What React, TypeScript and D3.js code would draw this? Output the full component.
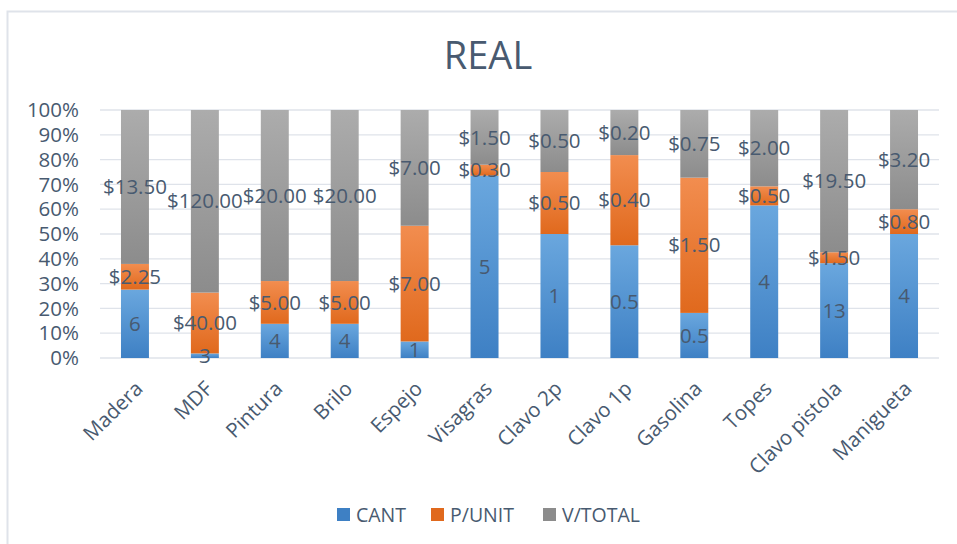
import React from "react";
import * as d3 from "d3";

const categories = ["Madera", "MDF", "Pintura", "Brilo", "Espejo", "Visagras", "Clavo 2p", "Clavo 1p", "Gasolina", "Topes", "Clavo pistola", "Manigueta"];
const cant = [6, 3, 4, 4, 1, 5, 1, 0.5, 0.5, 4, 13, 4];
const pUnit = [2.25, 40, 5, 5, 7, 0.3, 0.5, 0.4, 1.5, 0.5, 1.5, 0.8];
const vTotal = [13.5, 120, 20, 20, 7, 1.5, 0.5, 0.2, 0.75, 2, 19.5, 3.2];
const seriesNames = ["CANT", "P/UNIT", "V/TOTAL"];
const yTicks = [0, 0.1, 0.2, 0.3, 0.4, 0.5, 0.6, 0.7, 0.8, 0.9, 1];

const W = 957, H = 544;
const M = { left: 100, right: 18, top: 110, bottom: 186 };
const FONT = "'Open Sans', 'Noto Sans', sans-serif";
const TXT = "#485a70";
const grads = [
  { id: "gBlue", top: "#6aa7de", bottom: "#3e80c4" },
  { id: "gOrange", top: "#f28d4f", bottom: "#e0691d" },
  { id: "gGray", top: "#acacac", bottom: "#8c8c8c" },
];

function fmtLabel(s: number, v: number) {
  if (s === 0) return String(v);
  return "$" + v.toFixed(2);
}

export default function App() {
  const x = d3.scaleBand<string>().domain(categories).range([M.left, W - M.right]).paddingInner(0.6).paddingOuter(0.3);
  const y = d3.scaleLinear().domain([0, 1]).range([H - M.bottom, M.top]);
  const rows = categories.map((c, i) => ({ cat: c, s0: cant[i], s1: pUnit[i], s2: vTotal[i] }));
  const stack = d3.stack<any>().keys(["s0", "s1", "s2"]).offset(d3.stackOffsetExpand);
  const layers = stack(rows);
  const raw = [cant, pUnit, vTotal];
  const legendX = [337, 431, 543];

  return (
    <svg width={W} height={H} style={{ position: "absolute", left: 0, top: 0, background: "#fff" }} fontFamily={FONT}>
      <defs>
        {grads.map((g) => (
          <linearGradient key={g.id} id={g.id} x1="0" y1="0" x2="0" y2="1">
            <stop offset="0" stopColor={g.top} />
            <stop offset="1" stopColor={g.bottom} />
          </linearGradient>
        ))}
      </defs>
      <rect x={7.5} y={11.5} width={W} height={H} fill="#fff" stroke="#dfe3ea" strokeWidth={2} />
      <text x={488} y={69} textAnchor="middle" fontSize={38} fill={TXT}>REAL</text>
      {yTicks.map((t) => (
        <g key={t}>
          <line x1={M.left} x2={W - M.right} y1={y(t)} y2={y(t)} stroke="#dfe3ea" strokeWidth={1.3} />
          <text x={79} y={y(t)} dy="0.35em" textAnchor="end" fontSize={20.5} fill={TXT}>{d3.format(".0%")(t)}</text>
        </g>
      ))}
      {layers.map((layer, s) => (
        <g key={s}>
          {layer.map((d, i) => (
            <rect key={i} x={x(categories[i])} width={x.bandwidth()} y={y(d[1])} height={y(d[0]) - y(d[1])} fill={`url(#${grads[s].id})`} />
          ))}
        </g>
      ))}
      {layers.map((layer, s) => (
        <g key={"l" + s}>
          {layer.map((d, i) => (
            <text key={i} x={(x(categories[i]) as number) + x.bandwidth() / 2} y={y((d[0] + d[1]) / 2)} dy="0.35em" textAnchor="middle" fontSize={20.5} fill={TXT}>
              {fmtLabel(s, raw[s][i])}
            </text>
          ))}
        </g>
      ))}
      {categories.map((c) => {
        const cx = (x(c) as number) + x.bandwidth() / 2 + 9;
        const cy = 390;
        return (
          <text key={c} x={cx} y={cy} textAnchor="end" fontSize={20.5} fill={TXT} transform={`rotate(-45 ${cx} ${cy})`}>{c}</text>
        );
      })}
      {seriesNames.map((n, s) => (
        <g key={n}>
          <rect x={legendX[s]} y={508} width={13} height={13} fill={grads[s].bottom} />
          <text x={legendX[s] + 19} y={515} dy="0.35em" fontSize={19.5} fill={TXT}>{n}</text>
        </g>
      ))}
    </svg>
  );
}
